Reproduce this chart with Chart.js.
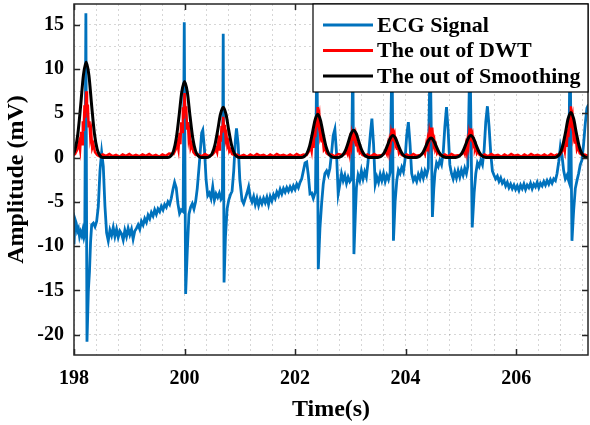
<!DOCTYPE html>
<html>
<head>
<meta charset="utf-8">
<script src="https://cdn.jsdelivr.net/npm/chart.js@4.4.0/dist/chart.umd.min.js"></script>
<style>
  html, body { margin: 0; padding: 0; background: #fff; }
</style>
</head>
<body>
<canvas id="ecg-chart" width="590" height="425"></canvas>
<script>
// tick labels
const xTicks = [198, 200, 202, 204, 206];
const yTicks = [-20, -15, -10, -5, 0, 5, 10, 15];

// [time (s), amplitude (mV)]
const ecgSignal = [
  [198.00,-9.8],[198.02,-7.0],[198.04,-7.4],[198.06,-8.3],[198.08,-8.0],[198.10,-8.9],[198.12,-8.4],[198.14,-8.8],[198.16,-8.2],[198.18,-9.0],[198.195,-8.6],
  [198.215,16.3],[198.235,-20.8],[198.26,-15.0],[198.28,-12.9],[198.30,-9.5],[198.32,-7.6],[198.35,-7.4],[198.38,-7.8],[198.41,-7.2],[198.44,-5.5],[198.47,-1.5],
  [198.50,0.6],[198.53,-1.0],[198.56,-5.5],[198.59,-8.5],[198.62,-9.4],[198.65,-8.2],[198.68,-8.8],[198.71,-7.9],[198.74,-8.9],[198.77,-8.1],[198.80,-9.0],
  [198.83,-8.3],[198.86,-8.6],[198.89,-9.3],[198.92,-8.2],[198.95,-8.9],[198.98,-8.0],[199.01,-8.7],[199.04,-8.1],[199.07,-9.2],[199.10,-8.3],[199.13,-8.0],
  [199.16,-7.6],[199.19,-8.1],[199.22,-7.2],[199.25,-7.6],[199.28,-6.9],[199.31,-7.3],[199.34,-6.5],[199.37,-6.9],[199.40,-6.2],[199.43,-6.6],[199.46,-5.9],
  [199.49,-6.4],[199.52,-5.8],[199.55,-6.1],[199.58,-5.5],[199.61,-5.9],[199.64,-5.3],[199.67,-5.6],[199.70,-5.0],[199.73,-5.3],[199.76,-4.6],[199.79,-3.6],
  [199.82,-2.8],[199.85,-3.4],[199.88,-5.2],[199.91,-6.3],[199.94,-5.9],[199.975,-6.1],[199.995,15.3],[200.02,-15.4],[200.05,-10.5],[200.08,-6.4],[200.11,-5.6],
  [200.14,-5.2],[200.17,-5.8],[200.20,-5.0],[200.23,-3.5],[200.27,-0.5],[200.31,2.8],[200.33,3.1],[200.36,1.0],[200.39,-2.5],[200.42,-4.3],[200.45,-4.0],
  [200.48,-4.6],[200.51,-3.3],[200.54,-4.8],[200.57,-4.1],[200.60,-4.5],[200.63,-4.0],[200.66,-4.7],[200.685,-4.4],[200.70,14.0],[200.715,-14.1],[200.74,-9.0],
  [200.77,-5.8],[200.80,-4.8],[200.83,-4.2],[200.86,-3.8],[200.89,-1.5],[200.92,2.0],[200.94,3.3],[200.97,1.5],[201.00,-2.5],[201.04,-4.8],[201.07,-5.2],
  [201.10,-4.6],[201.13,-4.0],[201.16,-3.3],[201.19,-4.5],[201.22,-5.0],[201.25,-4.4],[201.28,-5.3],[201.31,-4.6],[201.34,-5.4],[201.37,-4.7],[201.40,-5.2],
  [201.43,-4.6],[201.46,-5.1],[201.49,-4.5],[201.52,-5.3],[201.55,-4.4],[201.58,-4.9],[201.61,-4.2],[201.64,-4.6],[201.67,-3.9],[201.70,-4.3],[201.73,-3.6],
  [201.76,-4.1],[201.79,-3.5],[201.82,-3.9],[201.85,-3.4],[201.88,-3.8],[201.91,-3.3],[201.94,-3.7],[201.97,-3.2],[202.00,-3.6],[202.03,-3.0],[202.06,-3.4],
  [202.09,-2.8],[202.12,-2.4],[202.15,-1.5],[202.18,-0.6],[202.21,-0.5],[202.24,-2.0],[202.27,-4.1],[202.30,-4.0],[202.33,-4.6],[202.37,-3.8],[202.395,14.0],
  [202.42,-12.6],[202.45,-8.0],[202.48,-5.2],[202.51,-3.0],[202.54,-1.8],[202.57,-1.5],[202.60,-2.0],[202.63,-1.2],[202.66,0.5],[202.69,2.5],[202.72,3.2],
  [202.75,0.5],[202.78,-4.1],[202.81,-3.0],[202.84,-1.8],[202.87,-2.6],[202.90,-2.0],[202.93,-2.9],[202.96,-2.2],[202.99,-2.7],[203.02,-2.4],[203.045,12.0],
  [203.065,-10.9],[203.09,-6.5],[203.11,-3.4],[203.14,-2.0],[203.17,-2.6],[203.20,-1.5],[203.23,-2.4],[203.26,-1.6],[203.29,-2.2],[203.32,-0.5],[203.36,2.5],
  [203.39,4.4],[203.42,1.5],[203.45,-3.0],[203.48,-2.2],[203.51,-2.8],[203.54,-1.9],[203.57,-2.6],[203.60,-1.8],[203.63,-2.7],[203.66,-2.0],[203.69,-2.5],
  [203.72,-1.7],[203.755,12.0],[203.78,-9.4],[203.81,-5.0],[203.84,-2.6],[203.87,-1.4],[203.90,-1.8],[203.93,-1.1],[203.96,-1.6],[203.99,-0.2],[204.02,2.5],
  [204.05,4.0],[204.08,1.5],[204.11,-1.8],[204.14,-2.6],[204.17,-2.2],[204.20,-2.7],[204.23,-1.9],[204.26,-2.4],[204.29,-1.6],[204.32,-2.3],[204.35,-1.5],
  [204.38,-2.0],[204.41,-1.2],[204.445,12.0],[204.485,-6.7],[204.51,-3.5],[204.53,-1.8],[204.56,-0.6],[204.59,-1.0],[204.62,-0.3],[204.65,-0.8],[204.68,0.5],
  [204.71,3.5],[204.74,5.7],[204.77,3.0],[204.80,-0.8],[204.83,-1.8],[204.86,-2.4],[204.89,-1.6],[204.92,-2.3],[204.95,-1.5],[204.98,-2.2],[205.01,-1.4],
  [205.04,-2.0],[205.07,-1.2],[205.10,-1.8],[205.125,-1.0],[205.165,12.0],[205.205,-7.9],[205.24,-4.0],[205.27,-1.8],[205.30,-0.6],[205.33,-1.0],[205.36,-0.3],
  [205.39,-0.8],[205.42,0.8],[205.45,4.0],[205.48,5.8],[205.51,3.5],[205.54,0.5],[205.57,-1.5],[205.60,-2.0],[205.63,-2.4],[205.66,-2.1],[205.69,-2.7],
  [205.72,-2.3],[205.75,-2.9],[205.78,-2.6],[205.81,-3.2],[205.84,-2.8],[205.87,-3.4],[205.90,-3.0],[205.93,-3.5],[205.96,-3.1],[205.99,-3.6],[206.02,-3.2],
  [206.05,-3.7],[206.08,-3.1],[206.11,-3.5],[206.14,-3.0],[206.17,-3.6],[206.20,-3.1],[206.23,-3.4],[206.26,-2.9],[206.29,-3.5],[206.32,-3.0],[206.35,-3.3],
  [206.38,-2.8],[206.41,-3.4],[206.44,-2.9],[206.47,-3.2],[206.50,-2.7],[206.53,-3.1],[206.56,-2.6],[206.59,-3.0],[206.62,-2.5],[206.65,-2.9],[206.68,-2.4],
  [206.71,-2.6],[206.74,-1.8],[206.77,-0.5],[206.80,1.2],[206.83,0.2],[206.86,-1.5],[206.89,-2.4],[206.92,-2.0],[206.95,-2.6],[206.975,13.0],[207.01,-9.4],
  [207.04,-6.0],[207.07,-3.5],[207.10,-2.6],[207.13,-1.8],[207.16,-0.8],[207.19,-0.3],[207.22,1.5],[207.25,3.8],[207.28,5.6],[207.31,6.0]
];

const dwtOut = [
  [197.98,0.2],[198.02,0.4],[198.06,0.9],[198.09,1.7],[198.11,0.9],[198.13,2.9],[198.145,1.5],[198.16,4.1],[198.175,3.0],[198.19,5.9],[198.205,4.5],
  [198.22,7.5],[198.235,5.3],[198.25,6.0],[198.265,3.4],[198.28,4.1],[198.295,2.3],[198.31,2.9],[198.33,1.1],[198.35,1.5],[198.38,0.6],[198.42,0.3],
  [198.46,0.15],[198.52,0.35],[198.58,0.2],[198.64,0.4],[198.70,0.15],[198.76,0.3],[198.82,0.1],[198.88,0.35],[198.94,0.2],[199.00,0.4],[199.06,0.15],
  [199.12,0.3],[199.18,0.15],[199.24,0.35],[199.30,0.2],[199.36,0.4],[199.42,0.15],[199.48,0.3],[199.54,0.1],[199.60,0.35],[199.66,0.2],[199.72,0.45],
  [199.80,0.4],[199.84,0.9],[199.87,1.6],[199.89,0.9],[199.91,2.8],[199.925,1.5],[199.94,4.0],[199.955,2.9],[199.97,5.7],[199.985,4.4],[200.00,7.3],
  [200.015,5.1],[200.03,5.8],[200.045,3.3],[200.06,4.0],[200.075,2.2],[200.09,2.8],[200.11,1.1],[200.13,1.5],[200.16,0.6],[200.20,0.3],
  [200.25,0.35],[200.31,0.15],[200.37,0.4],[200.43,0.2],
  [200.50,0.3],[200.54,0.6],[200.57,1.0],[200.59,0.6],[200.61,1.7],[200.625,0.9],[200.64,2.5],[200.655,1.8],[200.67,3.6],[200.685,2.8],[200.70,4.6],
  [200.715,3.2],[200.73,3.7],[200.745,2.1],[200.76,2.5],[200.775,1.4],[200.79,1.7],[200.81,0.7],[200.83,0.9],[200.86,0.4],[200.90,0.3],
  [200.95,0.35],[201.01,0.15],[201.07,0.3],[201.13,0.1],[201.19,0.35],[201.25,0.15],[201.31,0.4],[201.37,0.2],[201.43,0.3],[201.49,0.1],[201.55,0.35],
  [201.61,0.15],[201.67,0.4],[201.73,0.2],[201.79,0.3],[201.85,0.15],[201.91,0.35],[201.97,0.15],[202.03,0.4],[202.09,0.2],[202.15,0.35],
  [202.21,0.3],[202.25,0.7],[202.28,1.3],[202.30,0.7],[202.32,2.2],[202.335,1.1],[202.35,3.1],[202.365,2.3],[202.38,4.4],[202.395,3.4],[202.41,5.7],
  [202.425,4.0],[202.44,4.6],[202.455,2.6],[202.47,3.1],[202.485,1.7],[202.50,2.2],[202.52,0.9],[202.54,1.1],[202.57,0.5],[202.61,0.3],
  [202.66,0.35],[202.72,0.15],[202.78,0.4],
  [202.86,0.3],[202.90,0.4],[202.93,0.7],[202.95,0.4],[202.97,1.2],[202.985,0.6],[203.00,1.8],[203.015,1.3],[203.03,2.5],[203.045,1.9],[203.06,3.2],
  [203.075,2.2],[203.09,2.6],[203.105,1.4],[203.12,1.8],[203.135,1.0],[203.15,1.2],[203.17,0.5],[203.19,0.6],[203.22,0.3],[203.26,0.2],
  [203.31,0.35],[203.37,0.15],[203.43,0.4],[203.49,0.2],
  [203.57,0.3],[203.61,0.4],[203.64,0.7],[203.66,0.4],[203.68,1.3],[203.695,0.7],[203.71,1.8],[203.725,1.3],[203.74,2.6],[203.755,2.0],[203.77,3.3],
  [203.785,2.3],[203.80,2.6],[203.815,1.5],[203.83,1.8],[203.845,1.0],[203.86,1.3],[203.88,0.5],[203.90,0.7],[203.93,0.3],[203.97,0.2],
  [204.02,0.35],[204.08,0.15],[204.14,0.4],[204.20,0.2],
  [204.26,0.3],[204.30,0.4],[204.33,0.7],[204.35,0.4],[204.37,1.3],[204.385,0.7],[204.40,1.9],[204.415,1.4],[204.43,2.7],[204.445,2.0],[204.46,3.4],
  [204.475,2.4],[204.49,2.7],[204.505,1.5],[204.52,1.9],[204.535,1.0],[204.55,1.3],[204.57,0.5],[204.59,0.7],[204.62,0.3],[204.66,0.2],
  [204.71,0.35],[204.77,0.15],[204.83,0.4],[204.89,0.2],
  [204.98,0.3],[205.02,0.4],[205.05,0.7],[205.07,0.4],[205.09,1.3],[205.105,0.7],[205.12,1.8],[205.135,1.3],[205.15,2.6],[205.165,2.0],[205.18,3.3],
  [205.195,2.3],[205.21,2.6],[205.225,1.5],[205.24,1.8],[205.255,1.0],[205.27,1.3],[205.29,0.5],[205.31,0.7],[205.34,0.3],[205.38,0.2],
  [205.43,0.35],[205.49,0.15],[205.55,0.4],[205.61,0.2],[205.67,0.3],[205.73,0.1],[205.79,0.35],[205.85,0.15],[205.91,0.4],[205.97,0.2],[206.03,0.3],
  [206.09,0.1],[206.15,0.35],[206.21,0.15],[206.27,0.4],[206.33,0.2],[206.39,0.3],[206.45,0.15],[206.51,0.35],[206.57,0.15],[206.63,0.4],[206.69,0.2],[206.74,0.35],
  [206.79,0.3],[206.83,0.7],[206.86,1.3],[206.88,0.7],[206.90,2.2],[206.915,1.2],[206.93,3.2],[206.945,2.3],[206.96,4.5],[206.975,3.5],[206.99,5.8],
  [207.005,4.1],[207.02,4.6],[207.035,2.6],[207.05,3.2],[207.065,1.7],[207.08,2.2],[207.10,0.9],[207.12,1.2],[207.15,0.5],[207.19,0.3],
  [207.24,0.35],[207.30,0.2],[207.34,0.3]
];

const smoothOut = [
  [197.92,0],[197.97,0.22],[198.02,0.92],[198.07,2.70],[198.12,5.83],[198.17,9.29],[198.22,10.8],[198.27,9.29],[198.32,5.83],[198.37,2.70],[198.42,0.92],[198.47,0.22],[198.52,0],
  [199.70,0],[199.75,0.17],[199.80,0.73],[199.85,2.15],[199.90,4.64],[199.95,7.40],[200.00,8.6],[200.05,7.40],[200.10,4.64],[200.15,2.15],[200.20,0.73],[200.25,0.17],[200.30,0],
  [200.40,0],[200.45,0.11],[200.50,0.48],[200.55,1.43],[200.60,3.08],[200.65,4.90],[200.70,5.7],[200.75,4.90],[200.80,3.08],[200.85,1.43],[200.90,0.48],[200.95,0.11],[201.00,0],
  [202.11,0],[202.16,0.10],[202.21,0.42],[202.26,1.23],[202.31,2.65],[202.36,4.21],[202.41,4.9],[202.46,4.21],[202.51,2.65],[202.56,1.23],[202.61,0.42],[202.66,0.10],[202.71,0],
  [202.76,0],[202.81,0.06],[202.86,0.26],[202.91,0.78],[202.96,1.67],[203.01,2.67],[203.06,3.1],[203.11,2.67],[203.16,1.67],[203.21,0.78],[203.26,0.26],[203.31,0.06],[203.36,0],
  [203.47,0],[203.52,0.05],[203.57,0.21],[203.62,0.63],[203.67,1.35],[203.72,2.15],[203.77,2.5],[203.82,2.15],[203.87,1.35],[203.92,0.63],[203.97,0.21],[204.02,0.05],[204.07,0],
  [204.16,0],[204.21,0.04],[204.26,0.19],[204.31,0.55],[204.36,1.19],[204.41,1.89],[204.46,2.2],[204.51,1.89],[204.56,1.19],[204.61,0.55],[204.66,0.19],[204.71,0.04],[204.76,0],
  [204.88,0],[204.93,0.05],[204.98,0.21],[205.03,0.63],[205.08,1.35],[205.13,2.15],[205.18,2.5],[205.23,2.15],[205.28,1.35],[205.33,0.63],[205.38,0.21],[205.43,0.05],[205.48,0],
  [206.69,0],[206.74,0.10],[206.79,0.43],[206.84,1.28],[206.89,2.75],[206.94,4.39],[206.99,5.1],[207.04,4.39],[207.09,2.75],[207.14,1.28],[207.19,0.43],[207.24,0.10],[207.29,0],[207.40,0]
];

const toXY = pts => pts.map(p => ({ x: p[0], y: p[1] }));
const serif = 'Liberation Serif, Times New Roman, serif';

// keep the plot box where the reference has it
const noLabelPadding = s => { s.paddingTop = 0; s.paddingBottom = 0; s.paddingLeft = 0; s.paddingRight = 0; };

const frameAndLegend = {
  id: 'frameAndLegend',
  afterDatasetsDraw(chart) {
    const { ctx, chartArea: a, scales } = chart;
    ctx.save();
    ctx.strokeStyle = '#262626';
    ctx.lineWidth = 1.5;
    ctx.strokeRect(a.left, a.top, a.right - a.left, a.bottom - a.top);
    ctx.beginPath();
    xTicks.forEach(v => {
      const px = Math.round(scales.x.getPixelForValue(v)) + 0.5;
      ctx.moveTo(px, a.bottom); ctx.lineTo(px, a.bottom - 6);
      ctx.moveTo(px, a.top); ctx.lineTo(px, a.top + 6);
    });
    yTicks.forEach(v => {
      const py = Math.round(scales.y.getPixelForValue(v)) + 0.5;
      ctx.moveTo(a.left, py); ctx.lineTo(a.left + 6, py);
      ctx.moveTo(a.right, py); ctx.lineTo(a.right - 6, py);
    });
    ctx.stroke();
    ctx.restore();
  },
  afterDraw(chart) {
    const { ctx, chartArea: a } = chart;
    const x0 = a.right - 275, y0 = a.top, y1 = 92;
    ctx.save();
    ctx.fillStyle = '#fff';
    ctx.fillRect(x0, y0, a.right - x0, y1 - y0);
    ctx.strokeStyle = '#000';
    ctx.lineWidth = 1.2;
    ctx.strokeRect(x0, y0, a.right - x0, y1 - y0);
    ctx.font = 'bold 22px ' + serif;
    ctx.textBaseline = 'middle';
    ctx.fillStyle = '#000';
    const rows = [25, 50.5, 76];
    chart.data.datasets.forEach((ds, i) => {
      ctx.strokeStyle = ds.borderColor;
      ctx.lineWidth = 3;
      ctx.beginPath();
      ctx.moveTo(x0 + 10, rows[i]);
      ctx.lineTo(x0 + 60, rows[i]);
      ctx.stroke();
      ctx.fillText(ds.label, x0 + 64, rows[i] + 1);
    });
    ctx.restore();
  }
};

new Chart(document.getElementById('ecg-chart'), {
  type: 'line',
  data: {
    datasets: [
      { label: 'ECG Signal', data: toXY(ecgSignal), borderColor: '#0072BD', borderWidth: 2.8, pointRadius: 0, tension: 0, order: 3 },
      { label: 'The out of DWT', data: toXY(dwtOut), borderColor: '#FF0000', borderWidth: 2.5, pointRadius: 0, tension: 0, order: 2 },
      { label: 'The out of Smoothing', data: toXY(smoothOut), borderColor: '#000000', borderWidth: 3, pointRadius: 0, cubicInterpolationMode: 'monotone', order: 1 }
    ]
  },
  options: {
    responsive: false,
    animation: false,
    layout: { padding: { top: 4, right: 2, left: 0, bottom: 0 } },
    plugins: { legend: { display: false }, tooltip: { enabled: false } },
    scales: {
      x: {
        type: 'linear', min: 198, max: 207.3,
        afterFit: s => { s.height = 70; noLabelPadding(s); },
        ticks: {
          stepSize: 0.4, includeBounds: false, autoSkip: false, maxRotation: 0, padding: 12, color: '#000',
          font: { family: serif, size: 20, weight: 'bold' },
          callback: v => { const r = Math.round(v); return (Math.abs(v - r) < 1e-6 && xTicks.includes(r)) ? String(r) : ''; }
        },
        grid: { color: 'rgba(0,0,0,0.16)', drawTicks: false },
        border: { display: false, dash: [2, 3] },
        title: { display: true, text: 'Time(s)', color: '#000', font: { family: serif, size: 24, weight: 'bold', lineHeight: 0.8 }, padding: { top: 0, bottom: 6 } }
      },
      y: {
        type: 'linear', min: -22.3, max: 17.35,
        afterFit: s => { s.width = 74; noLabelPadding(s); },
        ticks: {
          stepSize: 2.5, includeBounds: false, autoSkip: false, padding: 10, color: '#000',
          font: { family: serif, size: 20, weight: 'bold' },
          callback: v => { const r = Math.round(v); return (Math.abs(v - r) < 1e-6 && yTicks.includes(r)) ? String(r) : ''; }
        },
        grid: { color: 'rgba(0,0,0,0.16)', drawTicks: false },
        border: { display: false, dash: [2, 3] },
        title: { display: true, text: 'Amplitude (mV)', color: '#000', font: { family: serif, size: 24, weight: 'bold', lineHeight: 1 }, padding: { top: 5, bottom: 0 } }
      }
    }
  },
  plugins: [frameAndLegend]
});
</script>
</body>
</html>
